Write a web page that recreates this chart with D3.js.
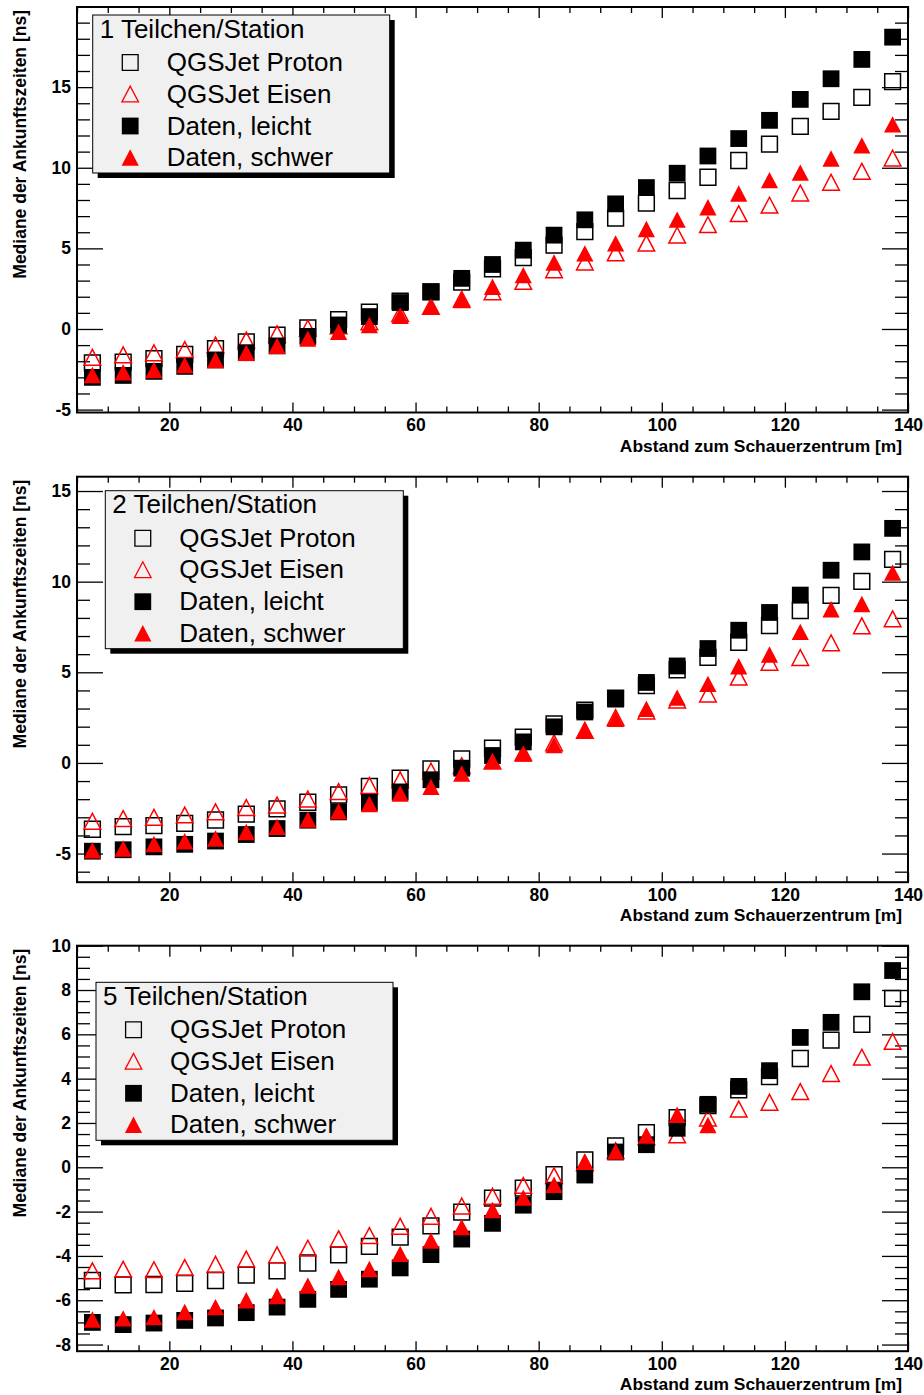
<!DOCTYPE html>
<html>
<head>
<meta charset="utf-8">
<script src="https://cdn.jsdelivr.net/npm/d3@7"></script>
<style>
  html, body { margin: 0; padding: 0; background: #fff; }
  svg { display: block; }
  text { font-family: "Liberation Sans", Arial, Helvetica, sans-serif; }
</style>
</head>
<body>
<svg id="chart" width="924" height="1395"></svg>
<script>
// Distance of the station bins from the shower core [m]
const distances = [7.5, 12.5, 17.5, 22.5, 27.5, 32.5, 37.5, 42.5, 47.5, 52.5, 57.5, 62.5, 67.5, 72.5,
                   77.5, 82.5, 87.5, 92.5, 97.5, 102.5, 107.5, 112.5, 117.5, 122.5, 127.5, 132.5, 137.5];

const seriesNames = ["QGSJet Proton", "QGSJet Eisen", "Daten, leicht", "Daten, schwer"];
const panelTitles = ["1 Teilchen/Station", "2 Teilchen/Station", "5 Teilchen/Station"];

// Median arrival times [ns], 1 particle per station
const proton1 = [-2.1, -2.05, -1.84, -1.57, -1.22, -0.8, -0.39, 0.06, 0.58, 1.05, 1.73, 2.3, 2.9, 3.73,
                 4.43, 5.2, 6.04, 6.87, 7.8, 8.59, 9.41, 10.45, 11.47, 12.56, 13.5, 14.37, 15.34];
const eisen1  = [-1.76, -1.6, -1.48, -1.28, -0.99, -0.68, -0.3, 0.05, 0.2, 0.45, 0.95, 1.4, 1.85, 2.31,
                 2.95, 3.67, 4.15, 4.72, 5.32, 5.82, 6.47, 7.15, 7.68, 8.43, 9.1, 9.78, 10.6];
const leicht1 = [-3.0, -2.88, -2.63, -2.32, -1.92, -1.47, -1.05, -0.46, 0.25, 0.77, 1.64, 2.31, 3.14, 4.0,
                 4.89, 5.82, 6.77, 7.76, 8.77, 9.66, 10.73, 11.81, 12.94, 14.24, 15.52, 16.72, 18.1];
const schwer1 = [-2.85, -2.68, -2.54, -2.23, -1.92, -1.47, -1.05, -0.6, -0.17, 0.25, 0.82, 1.38, 1.8, 2.62,
                 3.34, 4.12, 4.69, 5.31, 6.2, 6.78, 7.55, 8.4, 9.23, 9.7, 10.57, 11.39, 12.69];

// 2 particles per station
const proton2 = [-3.66, -3.51, -3.46, -3.33, -3.15, -2.82, -2.54, -2.17, -1.77, -1.3, -0.84, -0.33, 0.22, 0.81,
                 1.42, 2.15, 2.91, 3.58, 4.27, 5.14, 5.82, 6.65, 7.58, 8.41, 9.24, 10.01, 11.23];
const eisen2  = [-3.22, -3.07, -3.0, -2.87, -2.7, -2.46, -2.32, -1.99, -1.58, -1.25, -0.93, -0.45, -0.15, 0.1,
                 0.55, 1.11, 1.8, 2.5, 2.86, 3.46, 3.8, 4.73, 5.55, 5.81, 6.63, 7.56, 7.95];
const leicht2 = [-4.87, -4.79, -4.63, -4.49, -4.31, -3.95, -3.62, -3.16, -2.7, -2.19, -1.6, -0.93, -0.29, 0.41,
                 1.16, 1.99, 2.81, 3.52, 4.44, 5.35, 6.31, 7.32, 8.3, 9.26, 10.63, 11.64, 12.94];
const schwer2 = [-4.82, -4.72, -4.47, -4.32, -4.17, -3.81, -3.53, -3.12, -2.67, -2.27, -1.69, -1.32, -0.58, 0.12,
                 0.52, 0.99, 1.8, 2.43, 2.98, 3.6, 4.36, 5.33, 5.98, 7.23, 8.48, 8.77, 10.5];

// 5 particles per station (heavy data ends at 107.5 m)
const proton5 = [-5.1, -5.31, -5.29, -5.24, -5.11, -4.87, -4.67, -4.32, -3.95, -3.57, -3.15, -2.64, -2.02, -1.39,
                 -0.94, -0.33, 0.33, 0.96, 1.56, 2.24, 2.78, 3.5, 4.09, 4.91, 5.74, 6.45, 7.62];
const eisen5  = [-4.67, -4.6, -4.62, -4.52, -4.38, -4.14, -3.95, -3.65, -3.23, -3.08, -2.66, -2.21, -1.75, -1.31,
                 -0.82, -0.38, 0.2, 0.75, 1.37, 1.46, 2.22, 2.63, 2.93, 3.42, 4.23, 4.97, 5.68];
const leicht5 = [-7.0, -7.1, -7.03, -6.91, -6.8, -6.56, -6.31, -5.96, -5.51, -5.05, -4.54, -3.94, -3.24, -2.53,
                 -1.71, -1.1, -0.35, 0.69, 1.02, 1.76, 2.84, 3.65, 4.36, 5.86, 6.54, 7.92, 8.88];
const schwer5 = [-6.87, -6.82, -6.76, -6.53, -6.31, -6.0, -5.81, -5.34, -4.95, -4.59, -3.91, -3.31, -2.7, -1.93,
                 -1.37, -0.79, 0.25, 0.71, 1.43, 2.37, 1.91];

// Axis ranges and tick labels
const xDomain = [5, 140];
const xTickLabels = [20, 40, 60, 80, 100, 120, 140];
const xMinorStep = 5;
const yDomain1 = [-5.18, 19.97];
const yDomain2 = [-6.58, 15.79];
const yDomain5 = [-8.3, 10];
const yTickLabels1 = [-5, 0, 5, 10, 15];
const yTickLabels2 = [-5, 0, 5, 10, 15];
const yTickLabels5 = [-8, -6, -4, -2, 0, 2, 4, 6, 8, 10];
const yMinorSteps = [1, 1, 0.5];

const xTitle = "Abstand zum Schauerzentrum [m]";
const yTitle = "Mediane der Ankunftszeiten [ns]";

// ---- layout ----
const frameLeft = 77, frameRight = 908, frameHeight = 405.5;
const frameTops = [7, 476.7, 945.7];
const legendBoxes = [
  { dx: 15.7, dy: 8,    w: 297, h: 158 },
  { dx: 28.3, dy: 14,   w: 298, h: 158 },
  { dx: 19,   dy: 36.6, w: 297, h: 158 }
];

const panels = [
  { title: panelTitles[0], yDomain: yDomain1, yTicks: yTickLabels1, minor: yMinorSteps[0],
    series: [proton1, eisen1, leicht1, schwer1] },
  { title: panelTitles[1], yDomain: yDomain2, yTicks: yTickLabels2, minor: yMinorSteps[1],
    series: [proton2, eisen2, leicht2, schwer2] },
  { title: panelTitles[2], yDomain: yDomain5, yTicks: yTickLabels5, minor: yMinorSteps[2],
    series: [proton5, eisen5, leicht5, schwer5] }
];

// marker styles: open square, open triangle, filled square, filled triangle
const markerStyles = [
  { shape: "square",   fill: "none",    stroke: "#000" },
  { shape: "triangle", fill: "none",    stroke: "#ff0000" },
  { shape: "square",   fill: "#000",    stroke: "none" },
  { shape: "triangle", fill: "#ff0000", stroke: "none" }
];

function markerPath(shape, cx, cy, filled) {
  if (shape === "square") {
    const h = filled ? 8.4 : 7.9;
    return `M${cx - h},${cy - h}H${cx + h}V${cy + h}H${cx - h}Z`;
  }
  const hw = filled ? 8.6 : 8.3, hh = filled ? 8.2 : 7.9;
  return `M${cx - hw},${cy + hh}L${cx + hw},${cy + hh}L${cx},${cy - hh}Z`;
}

// plain hyphen for negative tick labels
const tickText = d => String(d);

const svg = d3.select("#chart");
const W = frameRight - frameLeft, H = frameHeight;

panels.forEach((p, pi) => {
  const g = svg.append("g").attr("transform", `translate(${frameLeft},${frameTops[pi]})`);
  const x = d3.scaleLinear().domain(xDomain).range([0, W]);
  const y = d3.scaleLinear().domain(p.yDomain).range([H, 0]);

  const yMinor = d3.range(Math.ceil(p.yDomain[0] / p.minor) * p.minor, p.yDomain[1] + 1e-9, p.minor)
    .filter(v => !p.yTicks.some(t => Math.abs(t - v) < 1e-9));
  const xMinor = d3.range(Math.ceil(xDomain[0] / xMinorStep) * xMinorStep, xDomain[1] + 1e-9, xMinorStep)
    .filter(v => !xTickLabels.includes(v));

  const tickAxis = (axis, tx, ty) => {
    const a = g.append("g").attr("transform", `translate(${tx},${ty})`).call(axis);
    a.select(".domain").remove();
    a.selectAll("line").attr("stroke", "#000").attr("stroke-width", 1.3);
    return a;
  };
  // inward ticks on all four sides
  tickAxis(d3.axisRight(y).tickValues(p.yTicks).tickSize(26).tickFormat(""), 0, 0);
  tickAxis(d3.axisRight(y).tickValues(yMinor).tickSize(13).tickFormat(""), 0, 0);
  tickAxis(d3.axisLeft(y).tickValues(p.yTicks).tickSize(26).tickFormat(""), W, 0);
  tickAxis(d3.axisLeft(y).tickValues(yMinor).tickSize(13).tickFormat(""), W, 0);
  tickAxis(d3.axisTop(x).tickValues(xTickLabels).tickSize(10).tickFormat(""), 0, H);
  tickAxis(d3.axisTop(x).tickValues(xMinor).tickSize(6).tickFormat(""), 0, H);
  tickAxis(d3.axisBottom(x).tickValues(xTickLabels).tickSize(11).tickFormat(""), 0, 0);
  tickAxis(d3.axisBottom(x).tickValues(xMinor).tickSize(6).tickFormat(""), 0, 0);

  // tick labels
  const yl = g.append("g").call(d3.axisLeft(y).tickValues(p.yTicks).tickSize(0).tickPadding(6).tickFormat(tickText));
  yl.select(".domain").remove();
  yl.selectAll("text").attr("font-size", 17.5).attr("font-weight", "bold")
    .attr("font-family", "'Liberation Sans', Arial, sans-serif").attr("fill", "#000");
  const xl = g.append("g").attr("transform", `translate(0,${H})`)
    .call(d3.axisBottom(x).tickValues(xTickLabels).tickSize(0).tickPadding(6).tickFormat(tickText));
  xl.select(".domain").remove();
  xl.selectAll("text").attr("font-size", 17.5).attr("font-weight", "bold")
    .attr("font-family", "'Liberation Sans', Arial, sans-serif").attr("fill", "#000");

  // axis titles
  g.append("text")
    .attr("x", W - 6).attr("y", H + 39)
    .attr("text-anchor", "end").attr("font-size", 17.4).attr("font-weight", "bold")
    .text(xTitle);
  g.append("text")
    .attr("transform", `translate(${26 - frameLeft},3) rotate(-90)`)
    .attr("text-anchor", "end").attr("font-size", 17.5).attr("font-weight", "bold")
    .text(yTitle);

  // data markers
  p.series.forEach((vals, si) => {
    const st = markerStyles[si];
    const filled = st.fill !== "none";
    g.append("g").selectAll("path")
      .data(vals.map((v, i) => [distances[i], v]))
      .join("path")
      .attr("d", d => markerPath(st.shape, x(d[0]), y(d[1]), filled))
      .attr("fill", st.fill)
      .attr("stroke", st.stroke)
      .attr("stroke-width", filled ? 0 : 1.5);
  });

  // frame
  g.append("rect").attr("x", 0).attr("y", 0).attr("width", W).attr("height", H)
    .attr("fill", "none").attr("stroke", "#000").attr("stroke-width", 2);

  // legend
  const lb = legendBoxes[pi];
  const lg = g.append("g").attr("transform", `translate(${lb.dx},${lb.dy})`);
  lg.append("rect").attr("x", 5).attr("y", 5).attr("width", lb.w).attr("height", lb.h).attr("fill", "#000");
  lg.append("rect").attr("x", 0).attr("y", 0).attr("width", lb.w).attr("height", lb.h)
    .attr("fill", "#f0f0f0").attr("stroke", "#000").attr("stroke-width", 1);
  lg.append("text").attr("x", 7).attr("y", 22.5).attr("font-size", 26).text(p.title);
  const rowY = [47.5, 79, 111, 142.5];
  seriesNames.forEach((name, si) => {
    const st = markerStyles[si];
    const filled = st.fill !== "none";
    lg.append("path")
      .attr("d", markerPath(st.shape, 37.5, rowY[si], filled))
      .attr("fill", st.fill).attr("stroke", st.stroke).attr("stroke-width", filled ? 0 : 1.3);
    lg.append("text").attr("x", 74).attr("y", rowY[si]).attr("dy", "0.33em")
      .attr("font-size", 26).text(name);
  });
});
</script>
</body>
</html>
